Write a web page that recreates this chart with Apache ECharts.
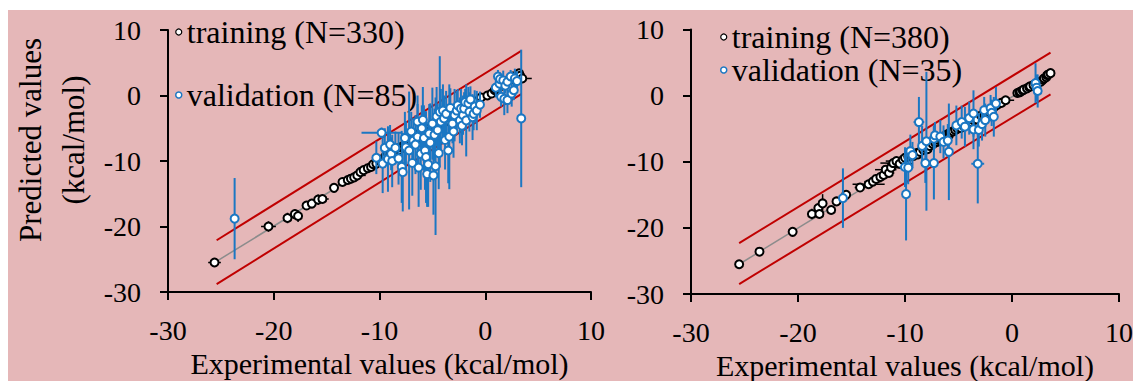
<!DOCTYPE html>
<html><head><meta charset="utf-8">
<script src="https://cdn.jsdelivr.net/npm/echarts@6.0.0/dist/echarts.min.js"></script>
<style>
html,body{margin:0;padding:0;background:#fff;}
#bg{position:absolute;left:8px;top:10px;width:1125px;height:371px;background:#E5B7B8;}
#chart{position:absolute;left:0;top:0;width:1133px;height:381px;}
</style></head><body><div id="bg"></div><div id="chart"></div>
<script>
// ---- axis ticks ----
const axisMin = -30, axisMax = 10, axisStep = 10;
const xTitle = 'Experimental values (kcal/mol)';
const yTitle = 'Predicted values\n(kcal/mol)';
const nameTrainL = 'training (N=330)', nameValidL = 'validation (N=85)';
const nameTrainR = 'training (N=380)', nameValidR = 'validation (N=35)';

// ---- left panel: [x, y, xErr, yErr] ----
const trainL = [
[-25.6,-25.5,0.6,0.2],[-20.5,-20.0,0.7,0.8],[-18.7,-18.7,0.3,0.8],[-18.0,-18.1,0.3,0.7],
[-17.7,-18.4,0.3,0.9],[-16.9,-16.8,0.2,0.3],[-16.4,-16.5,0.2,0.3],[-15.8,-15.9,0.6,0.8],
[-15.4,-15.8,0.6,0.4],[-14.3,-14.1,0.4,0.3],[-13.5,-13.2,0.3,0.3],[-13.0,-12.9,0.3,0.3],
[-12.7,-12.7,0.3,0.3],[-12.4,-12.5,0.5,0.4],[-12.1,-12.2,0.8,0.4],[-11.8,-11.7,0.4,0.6],
[-11.5,-11.4,0.6,0.5],[-11.1,-11.1,0.9,0.6],[-10.8,-10.9,0.4,0.5],[-10.6,-10.5,0.5,0.5],
[-10.3,-10.4,0.4,0.4],[-10.0,-9.8,0.6,0.5],[-9.9,-10.1,0.4,0.6],[-9.7,-9.7,0.5,0.5],
[-9.5,-9.6,0.4,0.6],[-9.4,-9.2,0.4,0.6],[-9.2,-8.9,0.5,0.5],[-9.0,-9.1,0.3,0.4],
[-8.9,-8.7,0.6,0.7],[-8.7,-8.5,0.6,0.5],[-8.5,-8.6,0.3,0.4],[-8.3,-8.1,0.4,0.5],
[-8.1,-8.3,0.5,0.6],[-8.0,-7.9,0.5,0.5],[-7.8,-7.9,0.3,0.4],[-7.7,-7.6,0.4,0.5],
[-7.5,-7.4,0.4,0.6],[-7.3,-7.0,0.3,0.4],[-7.1,-6.8,0.5,0.6],[-7.0,-7.2,0.4,0.5],
[-6.8,-6.6,0.3,0.4],[-6.6,-6.7,0.4,0.5],[-6.5,-6.1,0.4,0.6],[-6.3,-5.9,0.3,0.5],
[-6.2,-6.3,0.3,0.4],[-6.0,-5.8,0.4,0.5],[-5.8,-5.6,0.4,0.5],[-5.6,-5.3,0.3,0.5],
[-5.4,-5.1,0.3,0.4],[-5.3,-5.5,0.3,0.4],[-5.0,-4.9,0.3,0.4],[-4.9,-5.2,0.4,0.4],
[-4.7,-4.8,0.3,0.4],[-4.5,-4.3,0.3,0.4],[-4.3,-4.6,0.3,0.4],[-4.1,-4.2,0.3,0.4],
[-3.8,-4.0,0.3,0.4],[-3.5,-3.3,0.3,0.4],[-3.1,-3.5,0.3,0.4],[-2.9,-3.1,0.3,0.3],
[-2.6,-2.9,0.3,0.3],[-2.2,-2.0,0.3,0.3],[-1.8,-2.4,0.3,0.3],[-1.3,-1.5,0.3,0.3],
[-1.0,-1.1,0.3,0.3],[-0.7,-0.8,0.3,0.3],[-0.4,-0.3,0.3,0.3],[0.2,0.0,0.3,0.3],
[0.6,0.3,0.3,0.3],[0.9,0.8,0.3,0.3],[1.0,1.0,0.3,0.3],[1.2,1.3,0.3,0.3],
[1.4,1.4,0.3,0.3],[1.5,1.6,0.3,0.3],[1.7,1.8,0.3,0.3],[1.9,2.0,0.3,0.3],
[2.0,2.1,0.3,0.3],[2.1,2.3,0.3,0.3],[2.3,2.4,0.3,0.3],[2.5,2.5,0.3,0.3],
[2.6,2.9,0.3,0.3],[2.8,2.6,0.3,0.3],[2.9,2.8,0.3,0.3],[3.0,3.1,0.3,0.3],
[3.2,3.4,0.3,0.3],[3.3,3.0,0.3,0.3],[3.5,2.6,0.9,0.3]
];
const validL = [
[-23.7,-18.8,0.2,6.2],[-9.8,-5.7,1.9,0.8],[-10.3,-9.5,0.4,2.5],[-9.7,-10.4,0.3,4.5],
[-9.5,-8.0,0.3,3.0],[-9.2,-9.7,0.3,5.0],[-9.0,-7.5,0.3,3.0],[-8.9,-8.9,0.3,2.5],
[-8.8,-10.0,0.3,4.0],[-8.5,-8.0,0.3,2.5],[-8.2,-9.6,0.3,4.0],[-7.9,-10.9,0.3,5.5],
[-7.8,-11.7,0.3,6.0],[-7.6,-6.5,0.3,4.0],[-7.5,-7.9,0.3,4.0],[-7.2,-8.4,0.3,9.0],
[-7.0,-5.5,0.3,3.0],[-6.9,-10.3,0.3,5.0],[-6.8,-6.9,0.3,3.5],[-6.6,-7.5,0.3,4.5],
[-6.4,-6.3,0.3,5.0],[-6.4,-4.0,0.3,4.0],[-6.3,-11.0,0.3,6.0],[-6.1,-8.9,0.3,5.5],
[-6.0,-5.0,0.3,3.5],[-5.9,-3.7,0.3,5.0],[-5.8,-6.5,0.3,5.0],[-5.7,-8.4,0.3,6.0],
[-5.6,-9.4,0.3,7.0],[-5.5,-12.0,0.3,5.0],[-5.4,-10.5,0.3,6.5],[-5.3,-5.8,0.3,4.5],
[-5.2,-7.2,0.3,6.0],[-5.0,-4.3,0.3,5.5],[-4.9,-12.2,0.3,6.0],[-4.8,-6.0,0.3,4.0],
[-4.7,-10.8,0.3,10.5],[-4.6,-3.2,0.3,4.5],[-4.5,-5.3,0.3,4.0],[-4.4,-8.8,0.3,5.5],
[-4.3,-2.5,0.3,8.5],[-4.2,-4.0,0.3,5.0],[-4.0,-2.3,0.3,4.0],[-3.9,-3.5,0.3,3.5],
[-3.8,-6.8,0.3,4.5],[-3.7,-2.8,0.3,3.5],[-3.5,-8.4,0.3,5.0],[-3.4,-6.3,0.3,8.0],
[-3.3,-1.9,0.3,3.0],[-3.1,-4.3,0.3,3.0],[-3.0,-5.5,0.3,4.0],[-2.9,-3.0,0.3,4.0],
[-2.7,-2.3,0.3,3.0],[-2.6,-1.5,0.3,2.5],[-2.4,-3.8,0.3,3.5],[-2.3,-2.0,0.3,3.0],
[-2.2,-4.6,0.3,3.0],[-2.1,-3.0,0.3,3.0],[-2.0,-2.0,0.3,2.5],[-1.9,-1.0,0.3,2.0],
[-1.8,-3.8,0.3,5.5],[-1.6,-1.2,0.3,2.5],[-1.5,-2.5,0.3,3.0],[-1.4,-0.6,0.3,2.0],
[-1.2,-3.3,0.3,3.5],[-1.1,-2.8,0.3,2.5],[-1.0,-1.7,0.3,2.5],[-0.8,-2.3,0.3,3.0],
[-0.5,-1.4,0.3,2.0],[1.0,1.2,0.3,1.5],[1.2,2.9,0.3,1.0],[1.35,1.8,0.3,1.5],
[1.4,2.5,0.3,1.0],[1.5,-0.2,0.3,1.5],[1.7,2.3,0.3,1.5],[1.8,-0.5,0.3,2.5],
[1.9,1.5,0.3,1.2],[2.1,2.1,0.3,1.0],[2.1,-0.7,0.3,2.0],[2.4,2.9,0.3,1.0],
[2.5,0.3,0.3,2.0],[2.7,0.8,0.3,1.5],[2.8,2.6,0.3,1.5],[3.0,2.2,0.3,1.5],
[3.4,-3.5,0.2,10.5]
];
const fitL = [[-25.6,-25.5],[3.5,3.4]];
const upperL = [[-25.4,-22.1],[3.4,6.8]];
const lowerL = [[-25.4,-28.8],[3.4,0.2]];

// ---- right panel: [x, y, xErr, yErr] ----
const trainR = [
[-25.5,-25.5,0.2,0.2],[-23.6,-23.6,0.2,0.2],[-20.5,-20.6,0.2,0.4],[-18.7,-17.9,0.3,0.8],
[-18.1,-17.0,0.3,0.6],[-18.0,-17.9,0.2,0.5],[-17.7,-16.3,0.3,1.4],[-16.9,-17.3,0.3,0.4],
[-16.4,-16.0,0.3,0.5],[-15.5,-15.0,0.3,0.4],[-14.2,-13.9,0.5,0.3],[-13.4,-13.4,1.5,0.3],
[-13.0,-13.0,0.8,0.3],[-12.7,-12.6,0.4,0.3],[-12.3,-12.3,0.6,0.3],[-12.0,-12.0,0.8,0.3],
[-11.8,-11.2,1.0,0.4],[-11.5,-11.7,0.5,0.3],[-11.3,-10.9,0.9,0.5],[-11.1,-10.2,1.2,0.6],
[-10.8,-9.9,1.0,0.5],[-10.5,-10.3,1.2,0.5],[-10.2,-9.7,0.8,0.5],[-10.0,-9.4,0.6,0.5],
[-9.7,-9.2,0.6,0.5],[-9.5,-9.0,0.5,0.4],[-9.2,-9.1,0.6,0.5],[-8.9,-8.7,0.5,0.4],
[-8.8,-8.9,0.5,0.5],[-8.6,-8.5,0.4,0.4],[-8.3,-8.2,0.4,0.4],[-8.1,-7.9,0.5,0.4],
[-7.9,-8.1,0.4,0.4],[-7.7,-7.6,0.4,0.4],[-7.4,-7.3,0.3,0.4],[-7.2,-7.1,0.4,0.4],
[-7.0,-7.0,0.3,0.4],[-6.9,-6.7,0.4,0.4],[-6.7,-6.5,0.3,0.4],[-6.4,-6.2,0.3,0.4],
[-6.1,-5.9,0.3,0.4],[-5.9,-6.0,0.3,0.4],[-5.8,-5.6,0.3,0.4],[-5.5,-5.4,0.3,0.3],
[-5.3,-5.2,0.3,0.4],[-5.1,-5.0,0.3,0.3],[-4.8,-4.9,0.3,0.3],[-4.5,-4.6,0.3,0.3],
[-4.2,-4.1,0.3,0.3],[-3.9,-4.0,0.3,0.3],[-3.6,-3.7,0.3,0.3],[-3.3,-3.6,0.3,0.3],
[-2.9,-3.0,0.3,0.3],[-2.6,-2.9,0.3,0.3],[-2.3,-2.4,0.3,0.3],[-2.0,-2.2,0.3,0.3],
[-1.7,-1.8,0.3,0.3],[-1.4,-1.4,0.3,0.3],[-1.0,-1.1,0.3,0.3],[-0.6,-0.7,0.8,0.3],
[0.5,0.4,0.3,0.3],[0.7,0.5,0.3,0.3],[0.8,0.6,0.3,0.3],[1.0,0.8,0.3,0.3],
[1.1,0.9,0.3,0.3],[1.4,1.1,0.3,0.3],[1.6,1.3,0.3,0.3],[1.7,1.4,0.3,0.3],
[2.0,1.6,0.3,0.3],[2.2,1.8,0.3,0.3],[2.3,1.9,0.3,0.3],[2.5,2.0,0.3,0.3],
[2.7,2.1,0.3,0.3],[2.9,2.4,0.3,0.3],[3.0,2.6,0.3,0.3],[3.2,2.8,0.3,0.3],
[3.3,3.1,0.3,0.3],[3.4,3.2,0.3,0.3],[3.6,3.4,0.3,0.3]
];
const validR = [
[-15.8,-15.5,0.3,4.5],[-10.0,-10.8,0.5,3.0],[-9.7,-10.9,0.4,2.5],[-9.9,-14.9,0.2,7.0],
[-9.5,-8.4,0.3,2.5],[-9.3,-9.0,0.3,2.0],[-8.7,-4.0,0.5,3.8],[-8.4,-7.6,0.3,3.0],
[-8.0,-6.9,0.3,10.5],[-8.1,-10.2,0.3,3.0],[-7.3,-10.2,0.3,5.5],[-7.3,-6.5,0.3,2.0],
[-7.2,-6.0,0.3,2.0],[-6.7,-6.2,0.3,2.5],[-6.4,-7.0,0.3,2.5],[-6.0,-6.8,0.3,2.5],
[-5.9,-8.5,0.3,7.3],[-5.2,-4.5,0.3,3.0],[-4.7,-4.0,0.3,2.5],[-4.4,-4.7,0.3,3.0],
[-4.0,-3.4,0.3,2.5],[-3.6,-2.7,0.3,3.5],[-3.6,-5.1,0.3,3.0],[-3.1,-5.2,0.3,2.5],
[-3.2,-10.3,0.6,6.0],[-2.8,-4.3,0.3,2.5],[-2.6,-2.2,0.3,2.0],[-2.5,-3.7,0.3,2.5],
[-2.0,-1.9,0.3,2.0],[-1.9,-2.6,0.3,2.0],[-1.7,-3.2,0.3,3.0],[-1.5,-1.2,0.3,2.5],
[2.2,1.9,0.3,3.0],[2.3,1.2,0.3,2.0],[2.4,0.7,0.3,2.5]
];
const fitR = [[-25.5,-25.5],[3.6,3.4]];
const upperR = [[-25.5,-22.3],[3.6,6.5]];
const lowerR = [[-25.5,-28.5],[3.6,0.2]];

// ---- styles ----
const FONT = "'Liberation Serif','Times New Roman',serif";
const BLUE = '#1B77C3', RED = '#C00000', GRAY = '#8C8C8C';

function errRender(color, lw) {
  return function (params, api) {
    const x = api.value(0), y = api.value(1), ex = api.value(2), ey = api.value(3);
    const a = api.coord([x - ex, y]), b = api.coord([x + ex, y]);
    const c = api.coord([x, y - ey]), d = api.coord([x, y + ey]);
    return { type: 'group', children: [
      { type: 'line', shape: { x1: a[0], y1: a[1], x2: b[0], y2: b[1] }, style: { stroke: color, lineWidth: lw } },
      { type: 'line', shape: { x1: c[0], y1: c[1], x2: d[0], y2: d[1] }, style: { stroke: color, lineWidth: lw } }
    ]};
  };
}

function xAx(gi, gap) {
  return { type: 'value', gridIndex: gi, min: axisMin, max: axisMax, interval: axisStep,
    name: xTitle, nameLocation: 'middle', nameGap: gap,
    nameTextStyle: { fontFamily: FONT, fontSize: 30, lineHeight: 30, color: '#000' },
    axisLine: { onZero: false, lineStyle: { color: '#000', width: 2 } },
    axisTick: { length: 8, lineStyle: { color: '#000', width: 2 } },
    axisLabel: { fontFamily: FONT, fontSize: 28, color: '#000', margin: 24 },
    splitLine: { show: false } };
}
function yAx(gi, withName) {
  const o = { type: 'value', gridIndex: gi, min: axisMin, max: axisMax, interval: axisStep,
    axisLine: { onZero: false, lineStyle: { color: '#000', width: 2 } },
    axisTick: { length: 8, lineStyle: { color: '#000', width: 2 } },
    axisLabel: { fontFamily: FONT, fontSize: 28, color: '#000', margin: 27 },
    splitLine: { show: false } };
  if (withName) {
    o.name = yTitle; o.nameLocation = 'middle'; o.nameGap = 73; o.nameRotate = 90;
    o.nameTextStyle = { fontFamily: FONT, fontSize: 31, lineHeight: 43, color: '#000', padding: [0, 0, 0, 42] };
  }
  return o;
}
function panelSeries(gi, train, valid, fit, up, lo, nT, nV) {
  const ax = { xAxisIndex: gi, yAxisIndex: gi };
  return [
    Object.assign({ type: 'line', data: up, symbol: 'none', lineStyle: { color: RED, width: 2 }, silent: true, z: 1 }, ax),
    Object.assign({ type: 'line', data: lo, symbol: 'none', lineStyle: { color: RED, width: 2 }, silent: true, z: 1 }, ax),
    Object.assign({ type: 'line', data: fit, symbol: 'none', lineStyle: { color: GRAY, width: 1.5 }, silent: true, z: 2 }, ax),
    Object.assign({ type: 'custom', data: train, renderItem: errRender('#000', 1.5), encode: { x: 0, y: 1 }, silent: true, z: 3 }, ax),
    Object.assign({ type: 'scatter', name: nT, data: train.map(d => [d[0], d[1]]), symbol: 'circle', symbolSize: 8,
      itemStyle: { color: '#fff', borderColor: '#000', borderWidth: 2, opacity: 1 }, z: 4 }, ax),
    Object.assign({ type: 'custom', data: valid, renderItem: errRender(BLUE, 2), encode: { x: 0, y: 1 }, silent: true, z: 5 }, ax),
    Object.assign({ type: 'scatter', name: nV, data: valid.map(d => [d[0], d[1]]), symbol: 'circle', symbolSize: 8,
      itemStyle: { color: '#fff', borderColor: BLUE, borderWidth: 2, opacity: 1 }, z: 6 }, ax)
  ];
}

const chart = echarts.init(document.getElementById('chart'), null, { renderer: 'svg' });
chart.setOption({
  backgroundColor: 'transparent',
  animation: false,
  grid: [
    { left: 168, top: 30, width: 423, height: 262, outerBoundsMode: 'none', containLabel: false },
    { left: 691, top: 29.5, width: 428, height: 264.5, outerBoundsMode: 'none', containLabel: false }
  ],
  xAxis: [xAx(0, 55), xAx(1, 53)],
  yAxis: [yAx(0, true), yAx(1, false)],
  legend: [
    { left: 175, top: 16, orient: 'vertical', padding: 0, itemGap: 31, itemWidth: 6, itemHeight: 6, icon: 'circle',
      textStyle: { fontFamily: FONT, fontSize: 32, color: '#000' },
      data: [ { name: nameTrainL, itemStyle: { color: '#fff', borderColor: '#000', borderWidth: 1.2 } },
              { name: nameValidL, itemStyle: { color: '#fff', borderColor: BLUE, borderWidth: 1.5 } } ] },
    { left: 720, top: 21, orient: 'vertical', padding: 0, itemGap: 1, itemWidth: 6, itemHeight: 6, icon: 'circle',
      textStyle: { fontFamily: FONT, fontSize: 32, color: '#000' },
      data: [ { name: nameTrainR, itemStyle: { color: '#fff', borderColor: '#000', borderWidth: 1.2 } },
              { name: nameValidR, itemStyle: { color: '#fff', borderColor: BLUE, borderWidth: 1.5 } } ] }
  ],
  series: [].concat(
    panelSeries(0, trainL, validL, fitL, upperL, lowerL, nameTrainL, nameValidL),
    panelSeries(1, trainR, validR, fitR, upperR, lowerR, nameTrainR, nameValidR)
  )
});
</script></body></html>
